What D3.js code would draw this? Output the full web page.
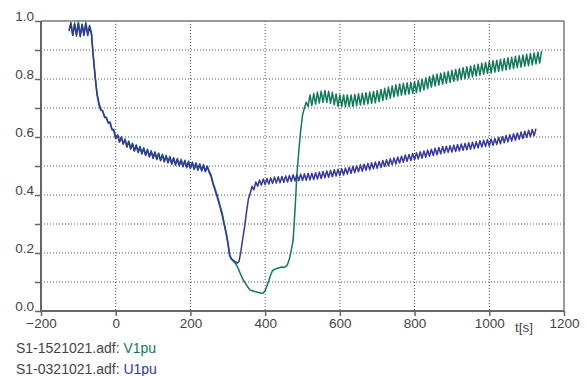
<!DOCTYPE html>
<html><head><meta charset="utf-8">
<script src="https://cdn.jsdelivr.net/npm/d3@7"></script>
<style>body{margin:0;background:#fff}svg{display:block}</style>
</head><body>
<svg id="c" width="587" height="376"></svg>
<script>
// time axis of the samples (s): first sample and sampling step
const tStart = -125;
const tStep = 5;

// V1pu (S1-1521021.adf), one value per sample
const v1pu = [
 0.97,0.995,0.952,0.993,0.955,0.997,0.95,0.99,0.953,0.995,
 0.955,0.985,0.96,0.88,0.81,0.75,0.72,0.695,0.69,0.672,
 0.668,0.65,0.652,0.628,0.625,0.598,0.607,0.582,0.60,0.575,
 0.593,0.568,0.586,0.561,0.579,0.554,0.573,0.549,0.568,0.544,
 0.563,0.539,0.558,0.534,0.553,0.529,0.549,0.525,0.545,0.521,
 0.541,0.517,0.537,0.513,0.533,0.509,0.529,0.506,0.526,0.503,
 0.523,0.50,0.52,0.497,0.517,0.494,0.514,0.491,0.511,0.488,
 0.508,0.486,0.505,0.483,0.50,0.482,0.47,0.445,0.425,0.405,
 0.385,0.36,0.338,0.305,0.275,0.24,0.195,0.178,0.172,0.165,
 0.155,0.14,0.125,0.11,0.10,0.09,0.08,0.072,0.07,0.068,
 0.066,0.065,0.063,0.061,0.062,0.07,0.088,0.105,0.125,0.14,
 0.143,0.146,0.148,0.15,0.152,0.15,0.153,0.16,0.18,0.21,
 0.245,0.35,0.47,0.55,0.62,0.675,0.70,0.72,0.705,0.745,
 0.708,0.75,0.713,0.755,0.717,0.758,0.719,0.76,0.719,0.758,
 0.716,0.754,0.711,0.748,0.706,0.745,0.705,0.745,0.705,0.745,
 0.705,0.745,0.706,0.747,0.708,0.749,0.71,0.751,0.712,0.753,
 0.714,0.755,0.716,0.757,0.718,0.76,0.722,0.764,0.726,0.768,
 0.73,0.772,0.734,0.776,0.738,0.78,0.741,0.783,0.744,0.785,
 0.746,0.787,0.748,0.789,0.75,0.791,0.753,0.795,0.757,0.799,
 0.762,0.804,0.767,0.809,0.772,0.814,0.776,0.817,0.779,0.82,
 0.782,0.823,0.785,0.826,0.788,0.83,0.792,0.833,0.795,0.836,
 0.798,0.839,0.801,0.842,0.804,0.845,0.807,0.848,0.81,0.851,
 0.813,0.854,0.816,0.857,0.819,0.86,0.821,0.863,0.824,0.865,
 0.826,0.868,0.829,0.87,0.831,0.873,0.834,0.875,0.836,0.878,
 0.839,0.88,0.841,0.883,0.844,0.885,0.846,0.888,0.849,0.89,
 0.852,0.893,0.855,0.897
];

// U1pu (S1-0321021.adf), one value per sample
const u1pu = [
 0.965,0.99,0.95,0.988,0.948,0.99,0.946,0.987,0.95,0.99,
 0.95,0.98,0.955,0.875,0.805,0.745,0.712,0.692,0.69,0.668,
 0.665,0.648,0.648,0.625,0.622,0.594,0.607,0.584,0.599,0.577,
 0.59,0.565,0.583,0.558,0.576,0.551,0.57,0.546,0.565,0.541,
 0.56,0.536,0.555,0.531,0.55,0.526,0.546,0.522,0.542,0.518,
 0.538,0.514,0.534,0.51,0.53,0.506,0.526,0.503,0.523,0.50,
 0.52,0.497,0.517,0.494,0.514,0.491,0.511,0.488,0.508,0.485,
 0.505,0.483,0.502,0.48,0.497,0.479,0.465,0.44,0.42,0.40,
 0.378,0.355,0.33,0.30,0.27,0.235,0.19,0.18,0.175,0.17,
 0.165,0.17,0.205,0.25,0.29,0.34,0.385,0.405,0.43,0.418,
 0.445,0.43,0.452,0.434,0.455,0.436,0.457,0.438,0.459,0.44,
 0.462,0.441,0.463,0.442,0.464,0.444,0.466,0.445,0.467,0.447,
 0.47,0.448,0.471,0.449,0.472,0.45,0.473,0.451,0.474,0.452,
 0.475,0.453,0.477,0.455,0.479,0.457,0.481,0.459,0.483,0.461,
 0.485,0.463,0.487,0.465,0.489,0.467,0.491,0.469,0.493,0.472,
 0.496,0.475,0.499,0.477,0.501,0.48,0.504,0.482,0.506,0.485,
 0.509,0.487,0.511,0.49,0.514,0.492,0.516,0.495,0.519,0.498,
 0.522,0.501,0.525,0.504,0.528,0.507,0.531,0.51,0.534,0.513,
 0.538,0.516,0.54,0.519,0.543,0.521,0.546,0.524,0.549,0.527,
 0.552,0.53,0.555,0.533,0.558,0.536,0.561,0.539,0.564,0.542,
 0.567,0.545,0.568,0.547,0.57,0.548,0.572,0.55,0.574,0.552,
 0.576,0.554,0.578,0.556,0.58,0.558,0.582,0.56,0.584,0.562,
 0.587,0.565,0.589,0.567,0.591,0.569,0.593,0.571,0.595,0.574,
 0.599,0.577,0.602,0.58,0.605,0.583,0.608,0.586,0.611,0.589,
 0.614,0.592,0.617,0.595,0.62,0.598,0.623,0.601,0.626,0.604,
 0.629
];

const xTicks = [-200, 0, 200, 400, 600, 800, 1000, 1200];
const yTicks = [0.0, 0.2, 0.4, 0.6, 0.8, 1.0];
const yGrid = [0.1, 0.2, 0.3, 0.4, 0.5, 0.6, 0.7, 0.8, 0.9];
const legend = [
  {file: "S1-1521021.adf:", name: "V1pu", color: "#12795a"},
  {file: "S1-0321021.adf:", name: "U1pu", color: "#35379b"}
];

const svg = d3.select("#c");
const L = 41, R = 564, T = 21, B = 311;
const x = d3.scaleLinear().domain([-200, 1200]).range([L, R]);
const y = d3.scaleLinear().domain([0, 1]).range([B, T]);
const font = "'Liberation Sans', Arial, sans-serif";
const txt = "#444";

// grid
svg.append("g").selectAll("line").data(yGrid).join("line")
  .attr("x1", L).attr("x2", R).attr("y1", d => y(d)).attr("y2", d => y(d))
  .attr("stroke", "#555").attr("stroke-width", 1).attr("stroke-dasharray", "1,2");
svg.append("g").selectAll("line").data(xTicks.slice(1, -1)).join("line")
  .attr("x1", d => x(d)).attr("x2", d => x(d)).attr("y1", T).attr("y2", B)
  .attr("stroke", "#555").attr("stroke-width", 1).attr("stroke-dasharray", "1,2");

// series
const line = d3.line().x((d, i) => x(tStart + i * tStep)).y(d => y(d));
svg.append("path").datum(v1pu).attr("d", line)
  .attr("fill", "none").attr("stroke", legend[0].color).attr("stroke-width", 1.5).attr("stroke-linejoin", "round");
svg.append("path").datum(u1pu).attr("d", line)
  .attr("fill", "none").attr("stroke", legend[1].color).attr("stroke-width", 1.5).attr("stroke-linejoin", "round");

// frame (top/right)
svg.append("line").attr("x1", L).attr("x2", R).attr("y1", T).attr("y2", T).attr("stroke", "#777").attr("stroke-width", 1.5);
svg.append("line").attr("x1", R).attr("x2", R).attr("y1", T).attr("y2", B).attr("stroke", "#777").attr("stroke-width", 1.5);

// axes
const yAxis = d3.axisLeft(y).tickValues(d3.range(0, 11).map(i => i / 10)).tickSize(6)
  .tickFormat(d => yTicks.some(v => Math.abs(v - d) < 1e-9) ? d3.format(".1f")(d) : "");
const gy = svg.append("g").attr("transform", `translate(${L},0)`).call(yAxis);
gy.select(".domain").attr("stroke", "#666").attr("stroke-width", 2);
gy.selectAll(".tick line").attr("stroke", "#666").attr("stroke-width", 1.5);
gy.selectAll(".tick text").attr("font-family", font).attr("font-size", 13.5).attr("fill", txt).attr("x", -7).attr("dy", "-0.05em");

const xAxis = d3.axisBottom(x).tickValues(xTicks).tickSize(5).tickFormat(d3.format("d"));
const gx = svg.append("g").attr("transform", `translate(0,${B})`).call(xAxis);
gx.select(".domain").attr("stroke", "#666").attr("stroke-width", 2);
gx.selectAll(".tick line").attr("stroke", "#666").attr("stroke-width", 1.5);
gx.selectAll(".tick text").attr("font-family", font).attr("font-size", 13.5).attr("fill", txt).attr("y", 7);
gx.selectAll("path.domain").attr("d", `M${L},0H${R}`);
gy.selectAll("path.domain").attr("d", `M0,${T}V${B}`);

svg.append("text").attr("x", 524).attr("y", 332).attr("text-anchor", "middle")
  .attr("font-family", font).attr("font-size", 13.5).attr("fill", txt).text("t[s]");

// legend
legend.forEach((d, i) => {
  const t = svg.append("text").attr("x", 16).attr("y", 353 + i * 21)
    .attr("font-family", font).attr("font-size", 14).attr("fill", txt);
  t.append("tspan").text(d.file + " ");
  t.append("tspan").attr("fill", d.color).text(d.name);
});
</script>
</body></html>
